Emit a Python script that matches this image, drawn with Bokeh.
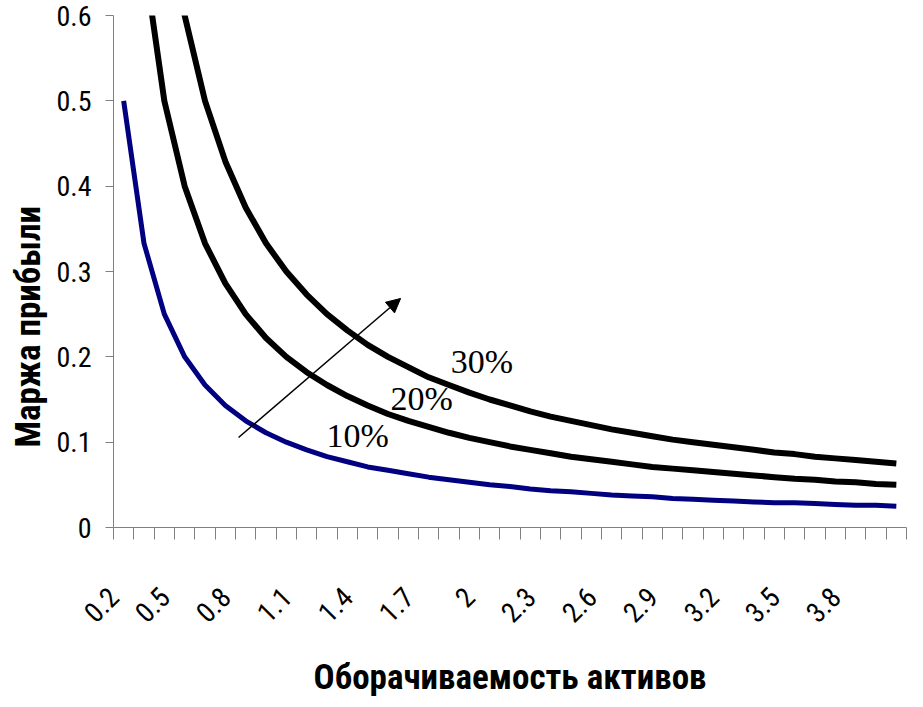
import math
from bokeh.plotting import figure
from bokeh.models import (FixedTicker, Range1d, Label, Arrow, NormalHead, Title,
                          LinearAxis)
from bokeh.embed import file_html
from bokeh.resources import INLINE

# Asset turnover categories
turnover = ["0.2", "0.3", "0.4", "0.5", "0.6", "0.7", "0.8", "0.9", "1", "1.1",
            "1.2", "1.3", "1.4", "1.5", "1.6", "1.7", "1.8", "1.9", "2", "2.1",
            "2.2", "2.3", "2.4", "2.5", "2.6", "2.7", "2.8", "2.9", "3", "3.1",
            "3.2", "3.3", "3.4", "3.5", "3.6", "3.7", "3.8", "3.9", "4"]

# Profit margin for ROA = 10%, 20%, 30%
margin_10 = [0.5, 0.333, 0.25, 0.2, 0.167, 0.143, 0.125, 0.111, 0.1, 0.091,
             0.083, 0.077, 0.071, 0.067, 0.063, 0.059, 0.056, 0.053, 0.05, 0.048,
             0.045, 0.043, 0.042, 0.04, 0.038, 0.037, 0.036, 0.034, 0.033, 0.032,
             0.031, 0.03, 0.029, 0.029, 0.028, 0.027, 0.026, 0.026, 0.025]
margin_20 = [1.0, 0.667, 0.5, 0.4, 0.333, 0.286, 0.25, 0.222, 0.2, 0.182,
             0.167, 0.154, 0.143, 0.133, 0.125, 0.118, 0.111, 0.105, 0.1, 0.095,
             0.091, 0.087, 0.083, 0.08, 0.077, 0.074, 0.071, 0.069, 0.067, 0.065,
             0.063, 0.061, 0.059, 0.057, 0.056, 0.054, 0.053, 0.051, 0.05]
margin_30 = [1.5, 1.0, 0.75, 0.6, 0.5, 0.429, 0.375, 0.333, 0.3, 0.273,
             0.25, 0.231, 0.214, 0.2, 0.188, 0.176, 0.167, 0.158, 0.15, 0.143,
             0.136, 0.13, 0.125, 0.12, 0.115, 0.111, 0.107, 0.103, 0.1, 0.097,
             0.094, 0.091, 0.088, 0.086, 0.083, 0.081, 0.079, 0.077, 0.075]

y_ticks = [0, 0.1, 0.2, 0.3, 0.4, 0.5, 0.6]
y_tick_labels = ["0", "0.1", "0.2", "0.3", "0.4", "0.5", "0.6"]
series_labels = ["10%", "20%", "30%"]

idx = list(range(len(turnover)))

NARROW = "Roboto Condensed"

p = figure(width=923, height=707, output_backend="svg", toolbar_location=None,
           x_range=Range1d(-0.5, len(turnover) - 0.5), y_range=Range1d(0, 0.6),
           min_border_left=113, min_border_right=17, min_border_top=15,
           min_border_bottom=180)
p.outline_line_color = None
p.grid.visible = False
p.background_fill_color = "white"
p.border_fill_color = "white"

p.line(idx, margin_10, line_color="#000080", line_width=5)
p.line(idx, margin_20, line_color="black", line_width=6)
p.line(idx, margin_30, line_color="black", line_width=6)

# main x axis: only tick marks between categories
xax = p.xaxis[0]
xax.ticker = FixedTicker(ticks=[],
                         minor_ticks=[i - 0.5 for i in range(len(turnover) + 1)])
xax.major_tick_out = 0
xax.major_tick_in = 0
xax.minor_tick_out = 12
xax.minor_tick_in = 0
xax.minor_tick_line_color = "#808080"
xax.axis_line_color = "#808080"
xax.major_label_standoff = 0

# label axis: a label every third category, anchored left of the category like Excel
label_idx = list(range(0, len(turnover), 3))
label_pos = [max(round(i - 0.98, 2), -0.49) for i in label_idx]
lab_ax = LinearAxis(ticker=FixedTicker(ticks=label_pos, minor_ticks=[]))
lab_ax.major_label_overrides = {pos: turnover[i] for pos, i in zip(label_pos, label_idx)}
lab_ax.axis_line_color = None
lab_ax.major_tick_line_color = None
lab_ax.minor_tick_line_color = None
lab_ax.major_tick_out = 0
lab_ax.major_tick_in = 0
lab_ax.major_label_orientation = math.pi / 4
lab_ax.major_label_standoff = 53
lab_ax.major_label_text_font = NARROW
lab_ax.major_label_text_font_size = "28px"
lab_ax.major_label_text_color = "black"
lab_ax.axis_label = "Оборачиваемость активов"
lab_ax.axis_label_text_font = NARROW
lab_ax.axis_label_text_font_style = "bold"
lab_ax.axis_label_text_font_size = "35px"
lab_ax.axis_label_text_color = "black"
lab_ax.axis_label_standoff = 23
p.add_layout(lab_ax, "below")

# y axis
p.yaxis.ticker = FixedTicker(ticks=y_ticks, minor_ticks=[])
p.yaxis.major_label_overrides = {t: l for t, l in zip(y_ticks, y_tick_labels)}
p.yaxis.major_tick_out = 8
p.yaxis.major_tick_in = 0
p.yaxis.major_tick_line_color = "#808080"
p.yaxis.axis_line_color = "#808080"
p.yaxis.major_label_standoff = 14
p.yaxis.major_label_text_font = NARROW
p.yaxis.major_label_text_font_size = "28px"
p.yaxis.major_label_text_color = "black"

# y axis title (placed below centre as in the original)
p.add_layout(Title(text="Маржа прибыли", align="left", offset=80, standoff=10,
                   text_font=NARROW, text_font_style="bold",
                   text_font_size="35px", text_color="black"), "left")

# series annotations
for (lx, ly), txt in zip([(9.98, 0.1078), (13.12, 0.151), (16.08, 0.1945)], series_labels):
    p.add_layout(Label(x=lx, y=ly, text=txt, text_align="left",
                       text_baseline="alphabetic", text_font="Liberation Serif",
                       text_font_size="34px", text_color="black"))

p.add_layout(Arrow(x_start=5.65, y_start=0.1055, x_end=13.62, y_end=0.2684,
                   line_color="black", line_width=1.5,
                   end=NormalHead(size=14, fill_color="black", line_color="black")))

open("out.html", "w").write(file_html(p, INLINE))
